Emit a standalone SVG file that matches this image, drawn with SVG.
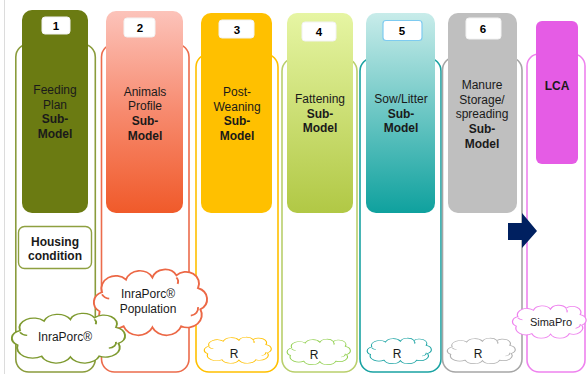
<svg xmlns="http://www.w3.org/2000/svg" xmlns:xlink="http://www.w3.org/1999/xlink" width="587" height="374" viewBox="0 0 587 374">
<style>
text{font-family:"Liberation Sans",Arial,sans-serif;font-size:12px;fill:#1a1a1a;text-anchor:middle}
.b{font-weight:bold}
.num{font-weight:bold;font-size:11.5px;fill:#000}
.frame{fill:none;stroke-width:1.6}
.nb{fill:#fff;stroke:#f2f2f2;stroke-width:1}
.cl{fill:#fff;stroke-width:1.6;vector-effect:non-scaling-stroke}
.hk{fill:none;stroke-width:1.6;vector-effect:non-scaling-stroke}
</style>
<defs>
<linearGradient id="g2" x1="0" y1="0" x2="0" y2="1"><stop offset="0" stop-color="#fcc3ba"/><stop offset="0.5" stop-color="#f78a6e"/><stop offset="1" stop-color="#f05a2a"/></linearGradient>
<linearGradient id="g4" x1="0" y1="0" x2="0" y2="1"><stop offset="0" stop-color="#e6f5a3"/><stop offset="1" stop-color="#b1c845"/></linearGradient>
<linearGradient id="g5" x1="0" y1="0" x2="0" y2="1"><stop offset="0" stop-color="#c8ecea"/><stop offset="1" stop-color="#0fa19e"/></linearGradient>
<path id="cloud" d="M8,40 A10,10 0 0 1 10,22 A12,12 0 0 1 30,10 A12,12 0 0 1 52,8 A11,11 0 0 1 72,6 A11,11 0 0 1 90,18 A11,11 0 0 1 92,38 A12,12 0 0 1 76,54 A13,13 0 0 1 52,55 A13,13 0 0 1 28,54 A13,13 0 0 1 8,40 Z"/>
<path id="hook" d="M84,44 A7,7 0 0 0 90,36 M10,24 A8,8 0 0 0 16,28 M72,8 A6,6 0 0 1 73,14"/>
</defs>
<line x1="4.5" y1="0" x2="4.5" y2="374" stroke="#dcdcdc" stroke-width="1"/>

<g id="col1">
<rect class="frame" x="15.8" y="44" width="79.5" height="328" rx="13" stroke="#8a9c3c"/>
<rect x="22" y="10" width="66" height="203" rx="10" fill="#6b7b12"/>
<rect class="nb" x="42" y="17" width="28" height="17" rx="3"/>
<text class="num" x="56" y="30">1</text>
<text x="55" y="94">Feeding</text>
<text x="55" y="109">Plan</text>
<text class="b" x="55" y="123">Sub-</text>
<text class="b" x="55" y="138">Model</text>
</g>
<g id="housing">
<rect x="18.5" y="226.5" width="73" height="42" rx="6" fill="#fff" stroke="#8ea040" stroke-width="1.4"/>
<text class="b" x="55" y="246">Housing</text>
<text class="b" x="55" y="260">condition</text>
</g>

<g id="col2">
<rect class="frame" x="101.5" y="44" width="87.5" height="328" rx="13" stroke="#ec6c4c"/>
<rect x="106" y="11" width="77" height="202" rx="10" fill="url(#g2)"/>
<rect class="nb" x="124" y="18" width="31" height="19" rx="3"/>
<text class="num" x="140" y="32">2</text>
<text x="145" y="96">Animals</text>
<text x="145" y="110">Profile</text>
<text class="b" x="145" y="125">Sub-</text>
<text class="b" x="145" y="140">Model</text>
</g>

<g id="col3">
<rect class="frame" x="196" y="54" width="82" height="318" rx="13" stroke="#ffc000"/>
<rect x="201" y="13" width="71" height="200" rx="10" fill="#ffc000"/>
<rect class="nb" x="219" y="20" width="35" height="18" rx="3"/>
<text class="num" x="237" y="34">3</text>
<text x="237" y="96">Post-</text>
<text x="237" y="111">Weaning</text>
<text class="b" x="237" y="125">Sub-</text>
<text class="b" x="237" y="140">Model</text>
</g>

<g id="col4">
<rect class="frame" x="282" y="58" width="75" height="314" rx="13" stroke="#b9cf6c"/>
<rect x="287" y="13" width="66" height="200" rx="10" fill="url(#g4)"/>
<rect class="nb" x="302" y="22" width="34" height="19" rx="3"/>
<text class="num" x="319" y="36">4</text>
<text x="320" y="103">Fattening</text>
<text class="b" x="320" y="118">Sub-</text>
<text class="b" x="320" y="132">Model</text>
</g>

<g id="col5">
<rect class="frame" x="360" y="58" width="81" height="314" rx="13" stroke="#1aa3a3"/>
<rect x="366" y="13" width="69" height="200" rx="10" fill="url(#g5)"/>
<rect x="383" y="20.5" width="39" height="20" rx="3" fill="#fff" stroke="#7ecbf0" stroke-width="1.2"/>
<text class="num" x="402" y="35">5</text>
<text x="401" y="103">Sow/Litter</text>
<text class="b" x="401" y="118">Sub-</text>
<text class="b" x="401" y="132">Model</text>
</g>

<g id="col6">
<rect class="frame" x="442.5" y="57" width="79.5" height="315" rx="13" stroke="#a6a6a6"/>
<rect x="448" y="13" width="69" height="200" rx="10" fill="#bfbfbf"/>
<rect class="nb" x="466" y="18" width="35" height="21" rx="3"/>
<text class="num" x="483" y="33">6</text>
<text x="482" y="89">Manure</text>
<text x="482" y="104">Storage/</text>
<text x="482" y="118">spreading</text>
<text class="b" x="482" y="133">Sub-</text>
<text class="b" x="482" y="148">Model</text>
</g>

<g id="lca">
<rect class="frame" x="527" y="54" width="58" height="318" rx="12" stroke="#ee82ee"/>
<rect x="536" y="21" width="42" height="143" rx="6" fill="#e55ce5"/>
<text class="b" x="557" y="90">LCA</text>
</g>

<g id="connectors">
<polygon points="508,223 522,223 522,213 537,231 522,248 522,240 508,240" fill="#002060"/>
</g>

<g id="cloud-population">
<g transform="translate(90,269) scale(1.2,1.06)"><use xlink:href="#cloud" class="cl" stroke="#ec6846"/><use xlink:href="#hook" class="hk" stroke="#ec6846"/></g>
<text x="148" y="298">InraPorc®</text>
<text x="148" y="313">Population</text>
</g>
<g id="cloud-inraporc">
<g transform="translate(8,313) scale(1.2,0.8)"><use xlink:href="#cloud" class="cl" stroke="#7e9a30"/><use xlink:href="#hook" class="hk" stroke="#7e9a30"/></g>
<text x="65" y="341">InraPorc®</text>
</g>
<g id="cloud-r3">
<g transform="translate(202,337) scale(0.71,0.42)"><use xlink:href="#cloud" class="cl" stroke="#ffc000"/><use xlink:href="#hook" class="hk" stroke="#ffc000"/></g>
<text x="234" y="358">R</text>
</g>
<g id="cloud-r4">
<g transform="translate(285,339) scale(0.67,0.41)"><use xlink:href="#cloud" class="cl" stroke="#92d050"/><use xlink:href="#hook" class="hk" stroke="#92d050"/></g>
<text x="314" y="359">R</text>
</g>
<g id="cloud-r5">
<g transform="translate(365,338) scale(0.68,0.41)"><use xlink:href="#cloud" class="cl" stroke="#1aa3a3"/><use xlink:href="#hook" class="hk" stroke="#1aa3a3"/></g>
<text x="397" y="358">R</text>
</g>
<g id="cloud-r6">
<g transform="translate(445,338) scale(0.72,0.41)"><use xlink:href="#cloud" class="cl" stroke="#b0b0b0"/><use xlink:href="#hook" class="hk" stroke="#b0b0b0"/></g>
<text x="478" y="358">R</text>
</g>
<g id="cloud-simapro">
<g transform="translate(510,305) scale(0.78,0.53)"><use xlink:href="#cloud" class="cl" stroke="#ee82ee"/><use xlink:href="#hook" class="hk" stroke="#ee82ee"/></g>
<text x="551" y="326" style="font-size:11px">SimaPro</text>
</g>
</svg>
